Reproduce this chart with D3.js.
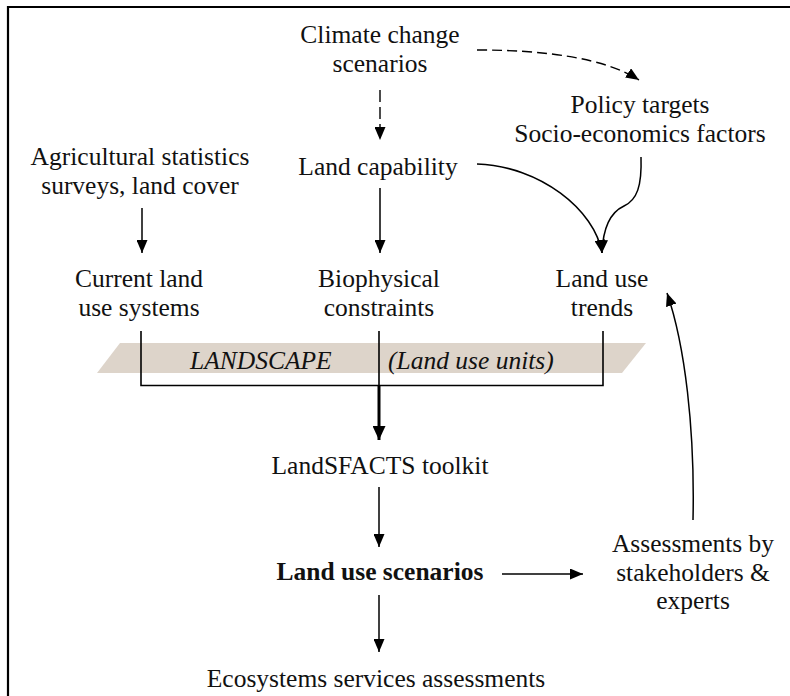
<!DOCTYPE html>
<html>
<head>
<meta charset="utf-8">
<script src="https://cdn.jsdelivr.net/npm/d3@7"></script>
<style>
  html, body { margin: 0; padding: 0; background: #fff; }
  svg { display: block; }
</style>
</head>
<body>
<script>
"use strict";
// node labels (one entry per line of text)
const nodeIds = ["climate", "capability", "policy", "agri", "current", "bio", "trends",
                 "toolkit", "scenarios", "assess", "eco"];
const nodeLines = [
  ["Climate change", "scenarios"],
  ["Land capability"],
  ["Policy targets", "Socio-economics factors"],
  ["Agricultural statistics", "surveys, land cover"],
  ["Current land", "use systems"],
  ["Biophysical", "constraints"],
  ["Land use", "trends"],
  ["LandSFACTS toolkit"],
  ["Land use scenarios"],
  ["Assessments by", "stakeholders &", "experts"],
  ["Ecosystems services assessments"]
];
const bandLabels = ["LANDSCAPE", "(Land use units)"];

// layout (x centre, first baseline) kept apart from the labels
const layout = {
  climate:   [380, 43],
  capability:[378, 175],
  policy:    [640, 113],
  agri:      [140, 165],
  current:   [139, 287],
  bio:       [379, 287],
  trends:    [602, 287],
  toolkit:   [380, 474],
  scenarios: [380, 580],
  assess:    [693, 552],
  eco:       [376, 687]
};
const lineGap = 28.5;
const serif = '"Liberation Serif"';

const W = 790, H = 696;
const svg = d3.select("body").append("svg")
  .attr("width", W)
  .attr("height", H);

const defs = svg.append("defs");
function marker(id, len, wid) {
  defs.append("marker")
    .attr("id", id)
    .attr("markerUnits", "userSpaceOnUse")
    .attr("viewBox", `0 0 ${len} ${wid}`)
    .attr("refX", len)
    .attr("refY", wid / 2)
    .attr("markerWidth", len)
    .attr("markerHeight", wid)
    .attr("orient", "auto")
    .append("path")
    .attr("d", `M0,0L${len},${wid / 2}L0,${wid}Z`)
    .attr("fill", "#000");
}
marker("arr", 13, 11);
marker("arrBig", 14, 13);

// frame: only top and left rules
svg.append("path")
  .attr("d", `M8,${H}V7H${W}`)
  .attr("fill", "none")
  .attr("stroke", "#000")
  .attr("stroke-width", 2.2);

// landscape band
svg.append("path")
  .attr("d", "M120,343L646,343L622,373L97,373Z")
  .attr("fill", "#ddd4ca");

svg.selectAll("text.band")
  .data(bandLabels)
  .enter()
  .append("text")
  .attr("class", "band")
  .attr("x", (d, i) => [190, 388][i])
  .attr("y", 369)
  .style("font-family", serif)
  .style("font-style", "italic")
  .attr("font-size", 25.5)
  .attr("fill", "#111")
  .text(d => d);

// bracket collecting the three columns
svg.append("path")
  .attr("d", "M141,331V385.5H603V331M379,331V385.5")
  .attr("fill", "none")
  .attr("stroke", "#000")
  .attr("stroke-width", 1.6);

// straight links
const links = [
  { d: "M380,90V140", dash: "12,5", w: 1.4, m: "arr" },
  { d: "M142,208V253", w: 1.5, m: "arr" },
  { d: "M380,188V253", w: 1.5, m: "arr" },
  { d: "M379,385V440", w: 3, m: "arrBig" },
  { d: "M379,487V547", w: 1.5, m: "arr" },
  { d: "M502,574H583", w: 1.5, m: "arr" },
  { d: "M379,595V652", w: 1.5, m: "arr" }
];

// curved links drawn through d3.path
function curve(pts) {
  const p = d3.path();
  p.moveTo(pts[0][0], pts[0][1]);
  for (let i = 1; i < pts.length; i += 3) {
    p.bezierCurveTo(pts[i][0], pts[i][1], pts[i + 1][0], pts[i + 1][1], pts[i + 2][0], pts[i + 2][1]);
  }
  return p.toString();
}
links.push({ d: curve([[477, 50], [545, 50], [605, 58], [639, 80]]), dash: "10,5", w: 1.4, m: "arr" });
links.push({ d: curve([[477, 164], [540, 166], [595, 210], [602, 253]]), w: 1.5, m: "arr" });
links.push({ d: curve([[641, 157], [642, 186], [637, 200], [624, 206], [611, 212], [603, 226], [602, 253]]), w: 1.5, m: "arr" });
links.push({ d: curve([[693, 520], [695, 430], [685, 345], [667, 293]]), w: 1.5, m: "arr" });

svg.append("g")
  .selectAll("path")
  .data(links)
  .enter()
  .append("path")
  .attr("d", d => d.d)
  .attr("fill", "none")
  .attr("stroke", "#000")
  .attr("stroke-width", d => d.w)
  .attr("stroke-dasharray", d => d.dash || null)
  .attr("marker-end", d => `url(#${d.m})`);

// node labels
const nodes = svg.append("g")
  .selectAll("text")
  .data(nodeIds)
  .enter()
  .append("text")
  .attr("text-anchor", "middle")
  .style("font-family", serif)
  .attr("font-size", 25.5)
  .attr("font-weight", d => d === "scenarios" ? "bold" : null)
  .attr("fill", "#111");

nodes.selectAll("tspan")
  .data((d, i) => nodeLines[i].map((t, k) => ({ id: d, t: t, k: k })))
  .enter()
  .append("tspan")
  .attr("x", d => layout[d.id][0])
  .attr("y", d => layout[d.id][1] + d.k * lineGap)
  .text(d => d.t);
</script>
</body>
</html>
